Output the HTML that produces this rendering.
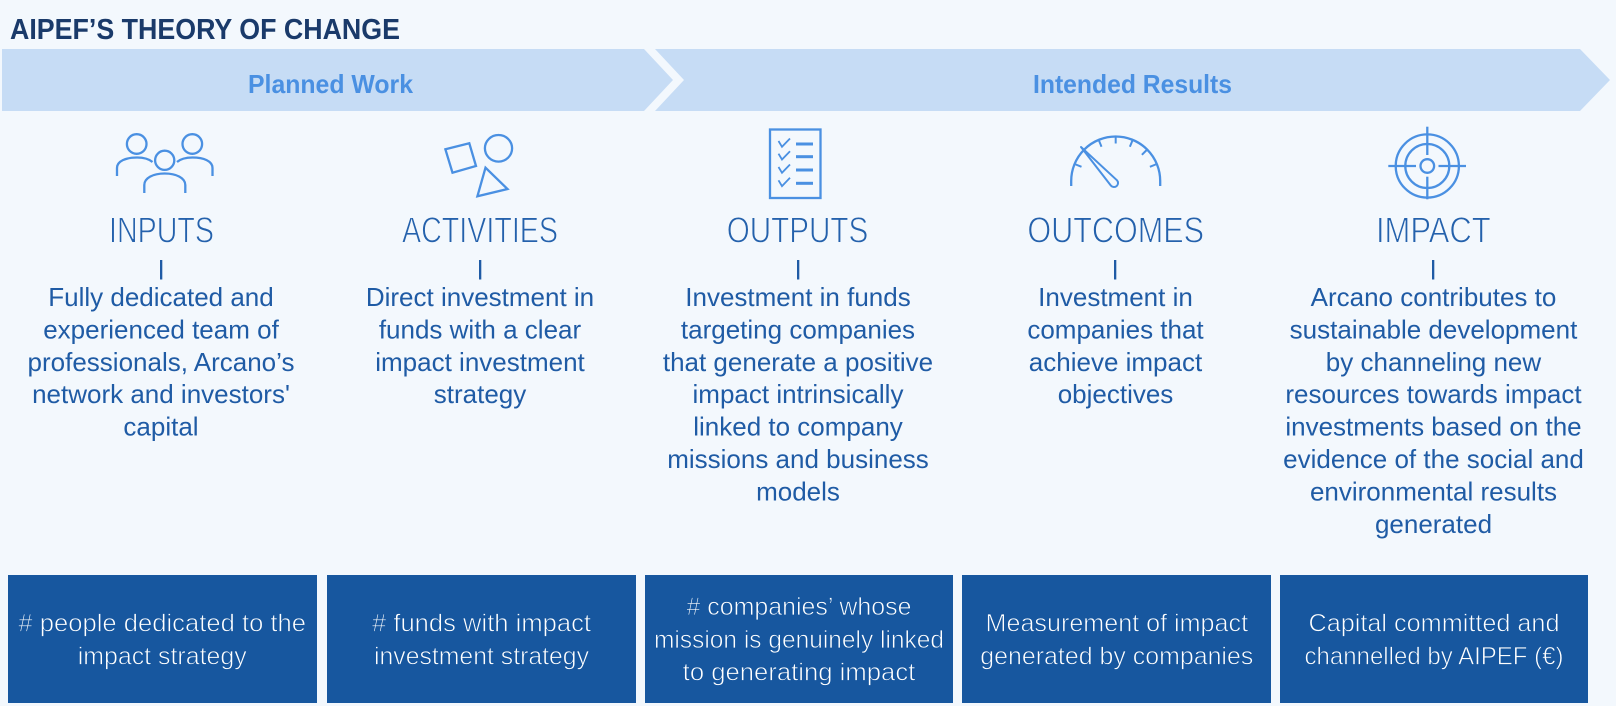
<!DOCTYPE html>
<html>
<head>
<meta charset="utf-8">
<style>
  html,body{margin:0;padding:0;background:#F3F8FD;}
  svg{display:block;}
  text{font-family:"Liberation Sans", sans-serif;}
  .body{font-size:26px;fill:#1F5BA5;text-anchor:middle;}
  .head{font-size:36px;fill:#2461AC;text-anchor:middle;stroke:#F3F8FD;stroke-width:0.9px;}
  .box{font-size:25px;fill:#FFFFFF;text-anchor:middle;stroke:#17579F;stroke-width:0.7px;}
  .ic{fill:none;stroke:#4A90E2;stroke-width:2.3;stroke-linecap:butt;}
</style>
</head>
<body>
<svg width="1616" height="706" viewBox="0 0 1616 706" xmlns="http://www.w3.org/2000/svg">
  <rect x="0" y="0" width="1616" height="706" fill="#F3F8FD"/>

  <!-- Title -->
  <text x="10" y="39" font-size="29" font-weight="bold" fill="#1A3A6A" textLength="390" lengthAdjust="spacingAndGlyphs">AIPEF’S THEORY OF CHANGE</text>

  <!-- Banner -->
  <polygon points="2,49 644,49 673,80 644,111 2,111" fill="#C6DCF5"/>
  <polygon points="655,49 1580,49 1610,80 1580,111 655,111 684,80" fill="#C6DCF5"/>
  <text x="330.5" y="93" font-size="26" font-weight="bold" fill="#4A90E2" text-anchor="middle" textLength="165" lengthAdjust="spacingAndGlyphs">Planned Work</text>
  <text x="1132.5" y="93" font-size="26" font-weight="bold" fill="#4A90E2" text-anchor="middle" textLength="199" lengthAdjust="spacingAndGlyphs">Intended Results</text>

  <!-- People icon -->
  <circle class="ic" cx="136.7" cy="144" r="9.8"/>
  <circle class="ic" cx="192.3" cy="144" r="9.8"/>
  <circle class="ic" cx="164.7" cy="160.3" r="9.6"/>
  <path class="ic" d="M117,176 V168 C117,161 126,157.5 137,157.5 C144,157.5 149,159 152.5,162"/>
  <path class="ic" d="M212.5,176 V168 C212.5,161 203.5,157.5 192.5,157.5 C185.5,157.5 180.5,159 177,162"/>
  <path class="ic" d="M144.3,193 V185 C144.3,178 153,173.5 164.7,173.5 C176.3,173.5 185.3,178 185.3,185 V193"/>

  <!-- Activities icon -->
  <polygon class="ic" points="445.4,149.3 469.3,143.3 476,166 452.5,172.7"/>
  <ellipse class="ic" cx="498.5" cy="148.3" rx="13.6" ry="13.3"/>
  <polygon class="ic" points="485.5,167.7 477.4,196.3 507.5,189"/>

  <!-- Outputs checklist icon -->
  <rect class="ic" x="770" y="129.5" width="50.5" height="68.5" stroke-width="2.6"/>
  <g fill="none" stroke="#4A90E2" stroke-width="1.8">
    <path d="M778.5,141 L782,146.8 L790,138.5"/>
    <path d="M778.5,153.7 L782,159.5 L790,151.2"/>
    <path d="M778.5,167 L782,172.8 L790,164.5"/>
    <path d="M778.5,180.3 L782,186.1 L790,177.8"/>
  </g>
  <g fill="#4A90E2">
    <rect x="796" y="142.5" width="17" height="3"/>
    <rect x="796" y="155.2" width="17" height="3"/>
    <rect x="796" y="168.5" width="17" height="3"/>
    <rect x="796" y="181.8" width="17" height="3"/>
  </g>

  <!-- Outcomes gauge icon -->
  <path class="ic" d="M1071.2,186 V181 A44.5,44.5 0 0 1 1160.2,181 V186"/>
  <g stroke="#4A90E2" stroke-width="2">
    <line x1="1115.7" y1="136.5" x2="1115.7" y2="143.5"/>
    <line x1="1132.7" y1="139.9" x2="1129.9" y2="146.8"/>
    <line x1="1098.7" y1="139.9" x2="1101.5" y2="146.8"/>
    <line x1="1147.2" y1="149.5" x2="1141.9" y2="154.8"/>
    <line x1="1156.8" y1="164" x2="1149.9" y2="166.8"/>
    <line x1="1074.6" y1="164" x2="1081.5" y2="166.8"/>
  </g>
  <path d="M1081,147 L1117,180.3 A4,4 0 0 1 1111,185.7 Z" fill="none" stroke="#4A90E2" stroke-width="2" stroke-linejoin="round"/>

  <!-- Impact target icon -->
  <circle class="ic" cx="1427.3" cy="166" r="31.6"/>
  <circle class="ic" cx="1427.3" cy="166" r="22"/>
  <circle class="ic" cx="1427.3" cy="166" r="6.8"/>
  <g stroke="#4A90E2" stroke-width="2.3">
    <line x1="1427.3" y1="126.7" x2="1427.3" y2="155"/>
    <line x1="1427.3" y1="176.7" x2="1427.3" y2="199.3"/>
    <line x1="1388.3" y1="166" x2="1416" y2="166"/>
    <line x1="1438.5" y1="166" x2="1466" y2="166"/>
  </g>

  <!-- Headings -->
  <text class="head" x="161.5" y="242.3" textLength="105" lengthAdjust="spacingAndGlyphs">INPUTS</text>
  <text class="head" x="480" y="242.3" textLength="156" lengthAdjust="spacingAndGlyphs">ACTIVITIES</text>
  <text class="head" x="797.5" y="242.3" textLength="141.6" lengthAdjust="spacingAndGlyphs">OUTPUTS</text>
  <text class="head" x="1115.7" y="242.3" textLength="176.7" lengthAdjust="spacingAndGlyphs">OUTCOMES</text>
  <text class="head" x="1433.3" y="242.3" textLength="114.7" lengthAdjust="spacingAndGlyphs">IMPACT</text>

  <!-- Vertical bars -->
  <g fill="#1F5BA5">
    <rect x="160" y="260" width="2.3" height="19.5"/>
    <rect x="479" y="260" width="2.3" height="19.5"/>
    <rect x="797" y="260" width="2.3" height="19.5"/>
    <rect x="1114" y="260" width="2.3" height="19.5"/>
    <rect x="1432" y="260" width="2.3" height="19.5"/>
  </g>

  <!-- Body text col 1 -->
  <text class="body" x="161" y="306">Fully dedicated and</text>
  <text class="body" x="161" y="338.4">experienced team of</text>
  <text class="body" x="161" y="370.8">professionals, Arcano’s</text>
  <text class="body" x="161" y="403.2">network and investors'</text>
  <text class="body" x="161" y="435.6">capital</text>

  <!-- col 2 -->
  <text class="body" x="480" y="306">Direct investment in</text>
  <text class="body" x="480" y="338.4">funds with a clear</text>
  <text class="body" x="480" y="370.8">impact investment</text>
  <text class="body" x="480" y="403.2">strategy</text>

  <!-- col 3 -->
  <text class="body" x="798" y="306">Investment in funds</text>
  <text class="body" x="798" y="338.4">targeting companies</text>
  <text class="body" x="798" y="370.8">that generate a positive</text>
  <text class="body" x="798" y="403.2">impact intrinsically</text>
  <text class="body" x="798" y="435.6">linked to company</text>
  <text class="body" x="798" y="468">missions and business</text>
  <text class="body" x="798" y="500.4">models</text>

  <!-- col 4 -->
  <text class="body" x="1115.5" y="306">Investment in</text>
  <text class="body" x="1115.5" y="338.4">companies that</text>
  <text class="body" x="1115.5" y="370.8">achieve impact</text>
  <text class="body" x="1115.5" y="403.2">objectives</text>

  <!-- col 5 -->
  <text class="body" x="1433.5" y="306">Arcano contributes to</text>
  <text class="body" x="1433.5" y="338.4">sustainable development</text>
  <text class="body" x="1433.5" y="370.8">by channeling new</text>
  <text class="body" x="1433.5" y="403.2">resources towards impact</text>
  <text class="body" x="1433.5" y="435.6">investments based on the</text>
  <text class="body" x="1433.5" y="468">evidence of the social and</text>
  <text class="body" x="1433.5" y="500.4">environmental results</text>
  <text class="body" x="1433.5" y="532.8">generated</text>

  <!-- Bottom boxes -->
  <g fill="#17579F">
    <rect x="8" y="575" width="309" height="128"/>
    <rect x="327" y="575" width="309" height="128"/>
    <rect x="645" y="575" width="308" height="128"/>
    <rect x="962" y="575" width="309" height="128"/>
    <rect x="1280" y="575" width="308" height="128"/>
  </g>
  <text class="box" x="162.2" y="631.7" textLength="287.7" lengthAdjust="spacingAndGlyphs"># people dedicated to the</text>
  <text class="box" x="162.2" y="664.3" textLength="169" lengthAdjust="spacingAndGlyphs">impact strategy</text>

  <text class="box" x="481.5" y="631.7" textLength="219" lengthAdjust="spacingAndGlyphs"># funds with impact</text>
  <text class="box" x="481.5" y="664.3" textLength="215" lengthAdjust="spacingAndGlyphs">investment strategy</text>

  <text class="box" x="799" y="615" textLength="225" lengthAdjust="spacingAndGlyphs"># companies’ whose</text>
  <text class="box" x="799" y="648" textLength="290" lengthAdjust="spacingAndGlyphs">mission is genuinely linked</text>
  <text class="box" x="799" y="680.7" textLength="232.6" lengthAdjust="spacingAndGlyphs">to generating impact</text>

  <text class="box" x="1116.8" y="631.7" textLength="262.5" lengthAdjust="spacingAndGlyphs">Measurement of impact</text>
  <text class="box" x="1116.8" y="664.3" textLength="273" lengthAdjust="spacingAndGlyphs">generated by companies</text>

  <text class="box" x="1434" y="631.7" textLength="251" lengthAdjust="spacingAndGlyphs">Capital committed and</text>
  <text class="box" x="1434" y="664.3" textLength="259" lengthAdjust="spacingAndGlyphs">channelled by AIPEF (€)</text>
</svg>
</body>
</html>
